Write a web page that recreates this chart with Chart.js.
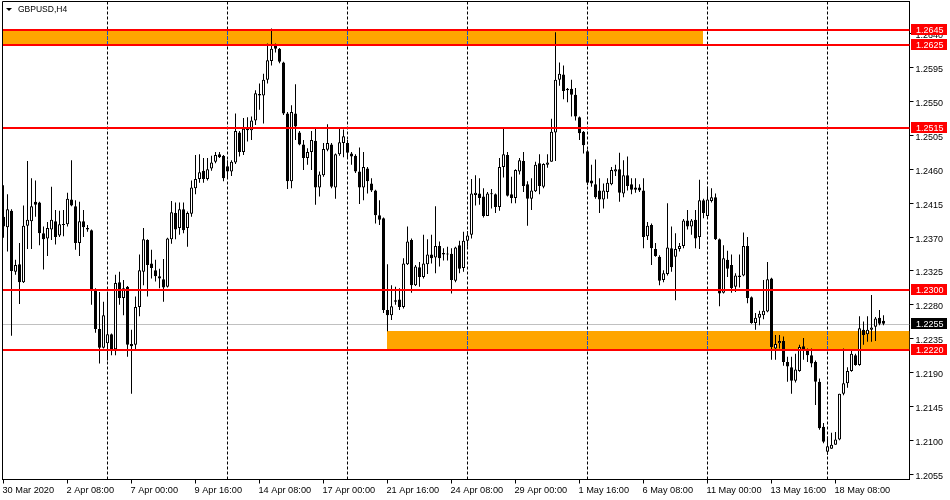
<!DOCTYPE html>
<html>
<head>
<meta charset="utf-8">
<script src="https://cdn.jsdelivr.net/npm/chart.js@4.4.0/dist/chart.umd.min.js"></script>
<style>
  html, body { margin: 0; padding: 0; background: #fff; }
</style>
</head>
<body>
<canvas id="chart" width="950" height="500"></canvas>
<script>
// GBPUSD H4, one entry per bar, bar 0 = 30 Mar 16:00
const opens = [
  1.2397,1.2383,1.2405,1.2324,1.2334,1.2310,1.2385,1.2391,1.2417,1.2416,
  1.2375,1.2368,1.2380,1.2391,1.2372,1.2386,1.2387,1.2420,1.2411,1.2362,
  1.2391,1.2382,1.2379,1.2301,1.2248,1.2223,1.2229,1.2241,1.2221,1.2310,
  1.2289,1.2304,1.2228,1.2227,1.2277,1.2324,1.2366,1.2335,1.2326,1.2318,
  1.2314,1.2304,1.2367,1.2402,1.2382,1.2407,1.2382,1.2401,1.2435,1.2447,
  1.2458,1.2447,1.2461,1.2470,1.2480,1.2478,1.2464,1.2457,1.2469,1.2509,
  1.2483,1.2512,1.2512,1.2525,1.2560,1.2558,1.2579,1.2604,1.2624,1.2620,
  1.2602,1.2534,1.2444,1.2534,1.2509,1.2493,1.2475,1.2483,1.2498,1.2436,
  1.2452,1.2486,1.2493,1.2436,1.2480,1.2495,1.2495,1.2481,1.2478,1.2457,
  1.2436,1.2461,1.2441,1.2432,1.2399,1.2395,1.2273,1.2266,1.2286,1.2287,
  1.2277,1.2334,1.2366,1.2306,1.2330,1.2317,1.2334,1.2347,1.2343,1.2358,
  1.2349,1.2347,1.2348,1.2312,1.2359,1.2329,1.2365,1.2373,1.2426,1.2428,
  1.2424,1.2398,1.2428,1.2427,1.2410,1.2463,1.2479,1.2427,1.2422,1.2457,
  1.2471,1.2440,1.2421,1.2431,1.2468,1.2437,1.2466,1.2470,1.2509,1.2579,
  1.2586,1.2567,1.2567,1.2559,1.2529,1.2510,1.2484,1.2445,1.2440,1.2432,
  1.2420,1.2430,1.2440,1.2457,1.2460,1.2428,1.2452,1.2440,1.2436,1.2436,
  1.2432,1.2371,1.2386,1.2354,1.2344,1.2313,1.2321,1.2355,1.2344,1.2354,
  1.2358,1.2392,1.2384,1.2393,1.2370,1.2419,1.2398,1.2418,1.2423,1.2367,
  1.2296,1.2340,1.2333,1.2304,1.2317,1.2319,1.2358,1.2290,1.2256,1.2263,
  1.2266,1.2271,1.2315,1.2222,1.2229,1.2232,1.2204,1.2197,1.2179,1.2192,
  1.2225,1.2220,1.2213,1.2204,1.2178,1.2118,1.2085,1.2089,1.2094,1.2101,
  1.2162,1.2176,1.2192,1.2213,1.2200,1.2247,1.2241,1.2247,1.2251,1.2263,
  1.2259
];
const highs = [
  1.2439,1.2427,1.2407,1.2340,1.2362,1.2412,1.2471,1.2448,1.2445,1.2417,
  1.2384,1.2390,1.2437,1.2406,1.2405,1.2406,1.2429,1.2472,1.2419,1.2417,
  1.2406,1.2386,1.2380,1.2302,1.2297,1.2284,1.2297,1.2242,1.2320,1.2324,
  1.2313,1.2305,1.2247,1.2291,1.2347,1.2382,1.2367,1.2353,1.2340,1.2328,
  1.2341,1.2369,1.2418,1.2416,1.2416,1.2416,1.2404,1.2445,1.2479,1.2480,
  1.2475,1.2475,1.2478,1.2483,1.2483,1.2479,1.2472,1.2472,1.2534,1.2511,
  1.2528,1.2529,1.2530,1.2565,1.2574,1.2587,1.2627,1.2647,1.2627,1.2621,
  1.2603,1.2536,1.2545,1.2573,1.2511,1.2499,1.2488,1.2511,1.2514,1.2457,
  1.2495,1.2520,1.2495,1.2481,1.2514,1.2513,1.2499,1.2483,1.2480,1.2489,
  1.2483,1.2463,1.2448,1.2433,1.2419,1.2396,1.2334,1.2306,1.2304,1.2302,
  1.2342,1.2384,1.2368,1.2333,1.2337,1.2373,1.2367,1.2373,1.2411,1.2364,
  1.2355,1.2357,1.2355,1.2357,1.2365,1.2377,1.2378,1.2447,1.2452,1.2448,
  1.2435,1.2430,1.2434,1.2428,1.2475,1.2514,1.2483,1.2450,1.2460,1.2475,
  1.2483,1.2444,1.2448,1.2470,1.2480,1.2468,1.2480,1.2527,1.2642,1.2602,
  1.2598,1.2568,1.2579,1.2568,1.2530,1.2511,1.2486,1.2466,1.2473,1.2448,
  1.2441,1.2448,1.2463,1.2466,1.2482,1.2472,1.2477,1.2448,1.2448,1.2440,
  1.2448,1.2390,1.2388,1.2362,1.2346,1.2326,1.2415,1.2384,1.2375,1.2362,
  1.2394,1.2406,1.2394,1.2406,1.2446,1.2421,1.2437,1.2435,1.2428,1.2368,
  1.2359,1.2352,1.2347,1.2322,1.2347,1.2376,1.2370,1.2291,1.2269,1.2272,
  1.2313,1.2337,1.2316,1.2240,1.2240,1.2238,1.2211,1.2211,1.2215,1.2227,
  1.2236,1.2222,1.2222,1.2206,1.2182,1.2123,1.2105,1.2110,1.2111,1.2162,
  1.2222,1.2197,1.2219,1.2215,1.2265,1.2258,1.2265,1.2293,1.2264,1.2273,
  1.2266
];
const lows = [
  1.2369,1.2351,1.2239,1.2320,1.2281,1.2309,1.2354,1.2354,1.2397,1.2359,
  1.2327,1.2345,1.2366,1.2360,1.2370,1.2371,1.2384,1.2411,1.2353,1.2345,
  1.2370,1.2377,1.2280,1.2243,1.2202,1.2222,1.2206,1.2213,1.2213,1.2280,
  1.2266,1.2211,1.2162,1.2221,1.2265,1.2306,1.2291,1.2315,1.2311,1.2302,
  1.2284,1.2303,1.2361,1.2367,1.2373,1.2375,1.2357,1.2397,1.2427,1.2442,
  1.2442,1.2445,1.2458,1.2468,1.2475,1.2444,1.2448,1.2451,1.2467,1.2477,
  1.2479,1.2497,1.2499,1.2519,1.2539,1.2521,1.2574,1.2598,1.2615,1.2601,
  1.2532,1.2434,1.2435,1.2499,1.2492,1.2459,1.2466,1.2459,1.2413,1.2424,
  1.2450,1.2484,1.2435,1.2421,1.2478,1.2476,1.2475,1.2466,1.2455,1.2414,
  1.2419,1.2428,1.2430,1.2388,1.2386,1.2269,1.2245,1.2260,1.2280,1.2273,
  1.2275,1.2333,1.2296,1.2305,1.2304,1.2315,1.2321,1.2335,1.2322,1.2331,
  1.2339,1.2339,1.2295,1.2310,1.2322,1.2324,1.2357,1.2368,1.2412,1.2413,
  1.2396,1.2398,1.2408,1.2402,1.2405,1.2449,1.2424,1.2415,1.2415,1.2453,
  1.2430,1.2385,1.2406,1.2430,1.2427,1.2435,1.2462,1.2470,1.2471,1.2571,
  1.2553,1.2549,1.2530,1.2525,1.2499,1.2481,1.2439,1.2437,1.2421,1.2402,
  1.2408,1.2421,1.2439,1.2451,1.2417,1.2423,1.2432,1.2427,1.2429,1.2430,
  1.2355,1.2366,1.2333,1.2344,1.2306,1.2310,1.2319,1.2324,1.2286,1.2351,
  1.2355,1.2380,1.2373,1.2355,1.2354,1.2395,1.2397,1.2416,1.2366,1.2278,
  1.2295,1.2317,1.2296,1.2297,1.2303,1.2318,1.2282,1.2255,1.2247,1.2253,
  1.2261,1.2270,1.2207,1.2207,1.2222,1.2199,1.2178,1.2162,1.2177,1.2191,
  1.2207,1.2204,1.2197,1.2147,1.2114,1.2096,1.2081,1.2089,1.2094,1.2100,
  1.2160,1.2170,1.2191,1.2199,1.2199,1.2227,1.2231,1.2231,1.2232,1.2253,
  1.2253
];
const closes = [
  1.2384,1.2407,1.2325,1.2333,1.2310,1.2385,1.2393,1.2411,1.2413,1.2375,
  1.2367,1.2382,1.2393,1.2370,1.2387,1.2387,1.2421,1.2412,1.2362,1.2391,
  1.2383,1.2380,1.2301,1.2248,1.2223,1.2266,1.2241,1.2220,1.2309,1.2289,
  1.2302,1.2227,1.2225,1.2277,1.2326,1.2367,1.2333,1.2329,1.2318,1.2315,
  1.2303,1.2368,1.2403,1.2380,1.2407,1.2379,1.2402,1.2436,1.2447,1.2456,
  1.2447,1.2460,1.2469,1.2479,1.2476,1.2448,1.2457,1.2470,1.2511,1.2483,
  1.2514,1.2514,1.2525,1.2561,1.2558,1.2579,1.2605,1.2620,1.2620,1.2603,
  1.2534,1.2444,1.2536,1.2517,1.2493,1.2475,1.2483,1.2499,1.2436,1.2453,
  1.2487,1.2495,1.2437,1.2480,1.2496,1.2504,1.2482,1.2477,1.2457,1.2436,
  1.2463,1.2444,1.2432,1.2399,1.2393,1.2273,1.2266,1.2278,1.2284,1.2277,
  1.2335,1.2364,1.2306,1.2331,1.2317,1.2335,1.2347,1.2342,1.2358,1.2342,
  1.2347,1.2347,1.2313,1.2356,1.2328,1.2365,1.2372,1.2428,1.2429,1.2422,
  1.2398,1.2428,1.2427,1.2410,1.2463,1.2480,1.2425,1.2422,1.2459,1.2472,
  1.2438,1.2421,1.2432,1.2466,1.2438,1.2467,1.2469,1.2510,1.2579,1.2587,
  1.2564,1.2565,1.2559,1.2530,1.2508,1.2492,1.2442,1.2441,1.2423,1.2420,
  1.2432,1.2442,1.2459,1.2460,1.2429,1.2452,1.2438,1.2433,1.2433,1.2432,
  1.2370,1.2385,1.2355,1.2345,1.2312,1.2322,1.2356,1.2330,1.2354,1.2358,
  1.2392,1.2384,1.2392,1.2368,1.2419,1.2402,1.2420,1.2423,1.2367,1.2295,
  1.2342,1.2328,1.2302,1.2319,1.2319,1.2358,1.2289,1.2256,1.2263,1.2268,
  1.2272,1.2314,1.2224,1.2228,1.2232,1.2204,1.2198,1.2179,1.2194,1.2224,
  1.2221,1.2213,1.2202,1.2178,1.2116,1.2098,1.2092,1.2094,1.2101,1.2162,
  1.2176,1.2192,1.2215,1.2200,1.2249,1.2240,1.2247,1.2250,1.2262,1.2255,
  1.2255
];

const xTickBars = [0, 16, 32, 48, 64, 80, 96, 112, 128, 144, 160, 176, 192, 208];
const xTickLabels = ["30 Mar 2020", "2 Apr 08:00", "7 Apr 00:00", "9 Apr 16:00", "14 Apr 08:00",
  "17 Apr 00:00", "21 Apr 16:00", "24 Apr 08:00", "29 Apr 00:00", "1 May 16:00",
  "6 May 08:00", "11 May 00:00", "13 May 16:00", "18 May 08:00"];
const weekStartBars = [26, 56, 86, 116, 146, 176, 206];
const yTicks = [1.2055, 1.2100, 1.2145, 1.2190, 1.2235, 1.2280, 1.2325, 1.2370,
  1.2415, 1.2460, 1.2505, 1.2550, 1.2595, 1.2640];

const levels = [1.2645, 1.2625, 1.2515, 1.2300, 1.2220];
const zoneFromBar = [-5, 95.75];
const zoneToBar = [174.75, 240];
const zoneHigh = [1.2645, 1.2245];
const zoneLow = [1.2625, 1.2220];
const bidPrice = 1.2255;
const title = "GBPUSD,H4";

const FONT = "'Liberation Sans', Arial, sans-serif";

const bodyData = opens.map((o, i) => ({ x: i, y: [o, closes[i]] }));
const wickData = opens.map((o, i) => ({
  x: i,
  y: [Math.min(lows[i], o, closes[i]), Math.max(highs[i], o, closes[i])]
}));
const bodyColors = opens.map((o, i) => closes[i] >= o ? "#ffffff" : "#000000");

const overlay = {
  id: "overlay",
  beforeDatasetsDraw(chart) {
    const { ctx, chartArea: a, scales: { x, y } } = chart;
    ctx.save();
    ctx.beginPath();
    ctx.rect(a.left, a.top, a.right - a.left, a.bottom - a.top);
    ctx.clip();

    // rectangles
    const zoneRects = zoneFromBar.map((s, k) => {
      const x0 = Math.max(a.left, Math.round(x.getPixelForValue(s)));
      const x1 = Math.min(a.right, Math.round(x.getPixelForValue(zoneToBar[k])));
      const y0 = Math.round(y.getPixelForValue(zoneHigh[k]));
      const y1 = Math.round(y.getPixelForValue(zoneLow[k]));
      return [x0, y0, x1 - x0, y1 - y0];
    });
    ctx.fillStyle = "#ffa500";
    zoneRects.forEach(r => ctx.fillRect(r[0], r[1], r[2], r[3]));

    // bid line
    const by = Math.round(y.getPixelForValue(bidPrice)) + 0.5;
    ctx.strokeStyle = "#c0c0c0";
    ctx.lineWidth = 1;
    ctx.beginPath();
    ctx.moveTo(a.left, by);
    ctx.lineTo(a.right, by);
    ctx.stroke();

    // weekly separators
    const drawSeps = (color) => {
      ctx.strokeStyle = color;
      ctx.setLineDash([3, 2]);
      weekStartBars.forEach(b => {
        const px = Math.floor(x.getPixelForValue(b)) + 0.5;
        ctx.beginPath();
        ctx.moveTo(px, a.top);
        ctx.lineTo(px, a.bottom);
        ctx.stroke();
      });
    };
    drawSeps("#000000");
    ctx.beginPath();
    zoneRects.forEach(r => ctx.rect(r[0], r[1], r[2], r[3]));
    ctx.clip();
    drawSeps("#0050ff");
    ctx.restore();
  },
  afterDatasetsDraw(chart) {
    const { ctx, chartArea: a, scales: { y } } = chart;
    ctx.save();
    ctx.strokeStyle = "#ff0000";
    ctx.lineWidth = 2;
    levels.forEach(p => {
      const py = Math.round(y.getPixelForValue(p));
      ctx.beginPath();
      ctx.moveTo(a.left, py);
      ctx.lineTo(a.right, py);
      ctx.stroke();
    });
    ctx.restore();
  },
  afterDraw(chart) {
    const { ctx, chartArea: a, scales: { y } } = chart;
    ctx.save();
    // frame left / top
    ctx.strokeStyle = "#000";
    ctx.lineWidth = 1;
    ctx.beginPath();
    ctx.moveTo(a.left, a.bottom);
    ctx.lineTo(a.left, a.top);
    ctx.lineTo(a.right, a.top);
    ctx.stroke();

    // title
    ctx.fillStyle = "#000";
    ctx.beginPath();
    ctx.moveTo(6, 8);
    ctx.lineTo(12, 8);
    ctx.lineTo(9, 11);
    ctx.closePath();
    ctx.fill();
    ctx.font = "8.5px " + FONT;
    ctx.textBaseline = "middle";
    ctx.textAlign = "left";
    ctx.fillText(title, 18, 10);

    // price tags
    ctx.font = "9px " + FONT;
    const tag = (p, bg) => {
      const py = Math.round(y.getPixelForValue(p));
      ctx.fillStyle = bg;
      ctx.fillRect(a.right + 1.5, py - 6, 36, 11);
      ctx.fillStyle = "#fff";
      ctx.fillText(p.toFixed(4), a.right + 6.5, py + 0.5);
    };
    levels.forEach(p => tag(p, "#ff0000"));
    tag(bidPrice, "#000000");
    ctx.restore();
  }
};

new Chart(document.getElementById("chart"), {
  type: "bar",
  data: {
    datasets: [
      {
        label: "body",
        data: bodyData,
        backgroundColor: bodyColors,
        borderColor: "#000",
        borderWidth: 1,
        borderSkipped: false,
        grouped: false,
        categoryPercentage: 1,
        barPercentage: 1,
        maxBarThickness: 3,
        minBarLength: 1,
        inflateAmount: 0
      },
      {
        label: "wick",
        data: wickData,
        backgroundColor: "#000",
        borderWidth: 0,
        grouped: false,
        categoryPercentage: 1,
        barPercentage: 1,
        maxBarThickness: 1,
        inflateAmount: 0
      }
    ]
  },
  options: {
    responsive: false,
    animation: false,
    events: [],
    layout: { padding: { left: 2.5, top: 1.5, right: 0, bottom: 0 } },
    plugins: { legend: { display: false }, tooltip: { enabled: false } },
    scales: {
      x: {
        type: "linear",
        offset: false,
        min: -0.25,
        max: 226.5,
        afterFit: s => {
          s.height = 20.5;
          s.paddingLeft = 0;
          s.paddingRight = 0;
        },
        afterBuildTicks: s => { s.ticks = xTickBars.map(v => ({ value: v })); },
        grid: { drawOnChartArea: false, drawTicks: true, tickLength: 4, color: "#000", offset: false },
        border: { display: true, color: "#000" },
        ticks: {
          autoSkip: false,
          maxRotation: 0,
          minRotation: 0,
          align: "start",
          labelOffset: -1,
          padding: 1,
          color: "#000",
          font: { family: FONT, size: 9.2 },
          callback: (v, i) => xTickLabels[i]
        }
      },
      y: {
        position: "right",
        min: 1.20480,
        max: 1.26829,
        afterFit: s => {
          s.width = 40.5;
          s.paddingTop = 0;
          s.paddingBottom = 0;
        },
        afterBuildTicks: s => { s.ticks = yTicks.map(v => ({ value: v })); },
        grid: { drawOnChartArea: false, drawTicks: true, tickLength: 4, color: "#000" },
        border: { display: true, color: "#000" },
        ticks: {
          autoSkip: false,
          padding: 2,
          labelOffset: 2,
          color: "#000",
          font: { family: FONT, size: 9 },
          callback: v => v.toFixed(4)
        }
      }
    }
  },
  plugins: [overlay]
});
</script>
</body>
</html>
